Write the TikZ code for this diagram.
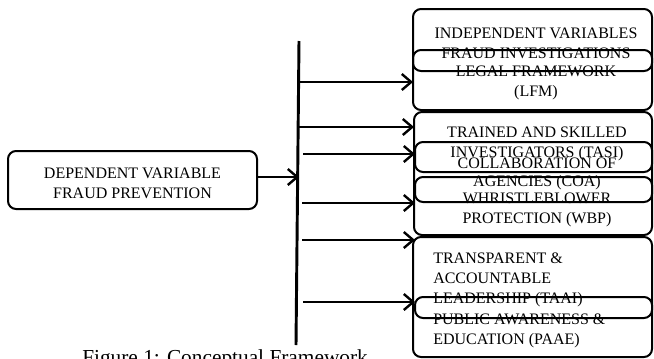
\documentclass[tikz,border=0pt]{standalone}
\usepackage{fontspec}
\setmainfont{Liberation Serif}
\usetikzlibrary{arrows.meta}

\tikzset{
  varbox/.style={draw, line width=1.5pt, rounded corners=6pt, inner sep=0pt, outer sep=0pt},
  vartext/.style={align=center, font=\fontsize{12}{15}\selectfont, inner sep=0pt},
  link/.style={line width=2pt, -{Straight Barb[length=7pt,width=12pt,line width=1.8pt]}},
}

\begin{document}
\begin{tikzpicture}[x=0.75pt, y=-0.75pt]

            \useasboundingbox (0,0) rectangle (654,358);

            % boxes
            \node[varbox, minimum width=186.75pt, minimum height=43.5pt] (dep) at (132.5, 180) {};
            \node[varbox, minimum width=179.25pt, minimum height=75.75pt] (A) at (532.5, 59.5) {};
            \node[varbox, minimum width=179.25pt, minimum height=15.75pt] (B) at (532.5, 60.5) {};
            \node[varbox, minimum width=178.5pt, minimum height=92.25pt] (C) at (533, 173.5) {};
            \node[varbox, minimum width=177.75pt, minimum height=22.5pt] (D) at (533.5, 157) {};
            \node[varbox, minimum width=177.75pt, minimum height=18.75pt] (E) at (533.5, 189.5) {};
            \node[varbox, minimum width=179.25pt, minimum height=90pt] (G) at (532.5, 297) {};
            \node[varbox, minimum width=177.75pt, minimum height=15.75pt] (H) at (533.5, 307.5) {};

            % texts
            \node[vartext] (tdep) at (132.5, 183) {DEPENDENT VARIABLE\\FRAUD PREVENTION};
            \node[vartext] (tA) at (536, 43) {INDEPENDENT VARIABLES\\FRAUD INVESTIGATIONS};
            \node[vartext] (tB) at (536, 83) {LEGAL FRAMEWORK\\(LFM)};
            \node[vartext] (tC) at (537, 144) {TRAINED AND SKILLED\\INVESTIGATORS (TASI)};
            \node[vartext, font=\fontsize{12}{14}\selectfont] (tD) at (537, 174) {COLLABORATION OF\\AGENCIES (COA)};
            \node[vartext] (tE) at (537, 210) {WHRISTLEBLOWER\\PROTECTION (WBP)};
            \node[vartext, align=left, anchor=west] (tG) at (433, 280) {TRANSPARENT \&\\ACCOUNTABLE\\LEADERSHIP (TAAI)};
            \node[vartext, align=left, anchor=west] (tH) at (433, 331) {PUBLIC AWARENESS \&\\EDUCATION (PAAE)};

            \node[anchor=base west, inner sep=0pt, font=\fontsize{16}{19}\selectfont] (cap) at (82, 364) {Figure 1: Conceptual Framework};

            % bar and arrows
            \coordinate (bartop) at (299, 41);
            \coordinate (barbot) at (296, 345);
            \draw[line width=2.2pt] (bartop) -- (barbot);

            \coordinate (s1) at (297, 82);
            \coordinate (s2) at (297, 127);
            \coordinate (s3) at (303, 154);
            \coordinate (s4) at (302, 203);
            \coordinate (s5) at (302, 240);
            \coordinate (s6) at (303, 302);

            \draw[link] (s1) -- (s1 -| A.west);
            \draw[link] (s2) -- (s2 -| C.west);
            \draw[link] (s3) -- (s3 -| D.west);
            \draw[link] (s4) -- (s4 -| E.west);
            \draw[link] (s5) -- (s5 -| D.west);
            \draw[link] (s6) -- (s6 -| H.west);
            \draw[link] (dep.east |- 0, 177) -- (bartop |- 0, 177);
        \end{tikzpicture}
\end{document}
